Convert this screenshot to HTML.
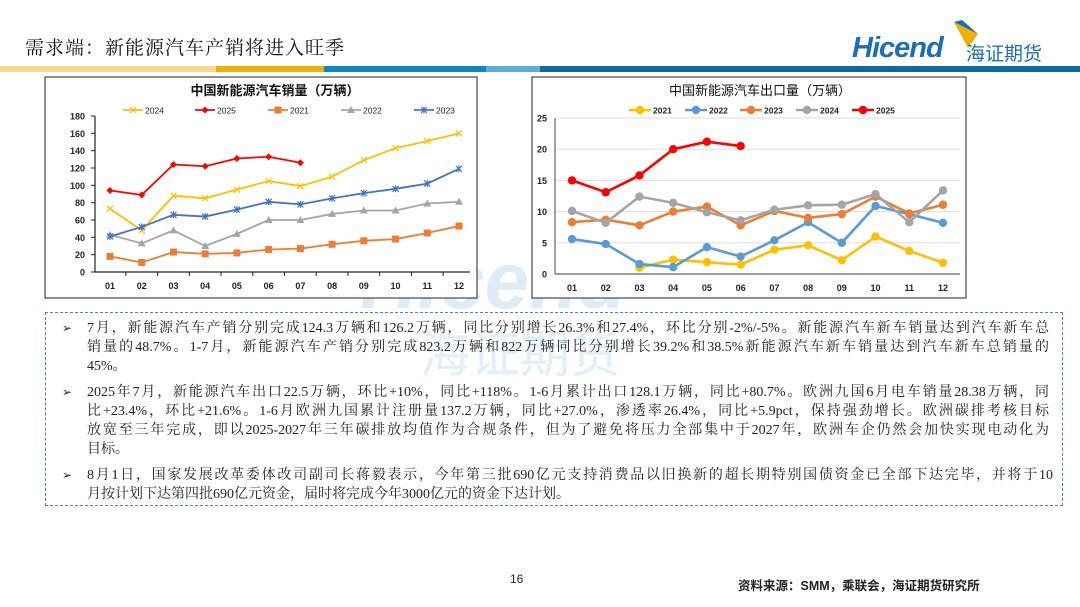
<!DOCTYPE html>
<html><head><meta charset="utf-8">
<style>
body{margin:0;width:1080px;height:607px;background:#fff;position:relative;overflow:hidden;font-family:"Liberation Sans","Noto Sans CJK SC",sans-serif;}
.abs{position:absolute}
.txt{font-family:"Liberation Serif","Noto Serif CJK SC",serif;font-size:14px;line-height:19px;color:#222;}
.item{position:relative;padding-left:35px;margin:0 0 7px 0;width:962px}
.item:before{content:"➢";position:absolute;left:10px;top:0;font-family:"DejaVu Sans",sans-serif;font-size:12px}
.ln{display:block;white-space:nowrap;text-align:justify;text-align-last:justify;text-justify:inter-character}
.ln.last{text-align-last:left}
</style></head><body>
<div class="abs" style="left:25px;top:33px;font-size:19px;letter-spacing:1px;font-family:'Liberation Serif','Noto Serif CJK SC',serif;color:#111">需求端：新能源汽车产销将进入旺季</div>
<div class="abs" style="left:852px;top:28px;width:215px;height:38px">
  <span style="position:absolute;left:0;top:4px;font:italic bold 29px 'Liberation Sans',sans-serif;color:#1a6fb5;letter-spacing:-1px">Hicend</span>
  <svg style="position:absolute;left:100px;top:-8px" width="30" height="30"><polygon points="2,2 26,14 16,28" fill="#f0b000"/><polygon points="2,2 10,0 26,14" fill="#1a6fb5"/></svg>
  <span style="position:absolute;left:114px;top:11px;font-size:19px;color:#1a6fb5">海证期货</span>
</div>
<div class="abs" style="left:0;top:66px;width:1080px;height:6px;display:flex">
  <div style="width:216px;background:#f7d98a"></div><div style="width:108px;background:#f0b000"></div><div style="width:162px;background:#0a8ac4"></div><div style="width:54px;background:#5aaede"></div><div style="flex:1;background:#0a6aa0"></div>
</div>
<div class="abs" style="left:360px;top:235px;font:italic bold 80px 'Liberation Sans',sans-serif;color:rgba(120,180,225,0.25)">Hicend</div>
<div class="abs" style="left:420px;top:315px;font-size:50px;color:rgba(120,180,225,0.22)">海证期货</div>

<svg class="abs" style="left:0;top:0" width="1080" height="310" id="charts"></svg>

<div class="abs txt" style="left:45px;top:312px;width:1004px;height:186px;border:1.5px dashed #4a7fd0;padding:6px 6px 0 6px">
<div class="item"><span class="ln">7月，新能源汽车产销分别完成124.3万辆和126.2万辆，同比分别增长26.3%和27.4%，环比分别-2%/-5%。新能源汽车新车销量达到汽车新车总</span><span class="ln">销量的48.7%。1-7月，新能源汽车产销分别完成823.2万辆和822万辆同比分别增长39.2%和38.5%新能源汽车新车销量达到汽车新车总销量的</span><span class="ln last">45%。</span></div>
<div class="item"><span class="ln">2025年7月，新能源汽车出口22.5万辆，环比+10%，同比+118%。1-6月累计出口128.1万辆，同比+80.7%。欧洲九国6月电车销量28.38万辆，同</span><span class="ln">比+23.4%，环比+21.6%。1-6月欧洲九国累计注册量137.2万辆，同比+27.0%，渗透率26.4%，同比+5.9pct，保持强劲增长。欧洲碳排考核目标</span><span class="ln">放宽至三年完成，即以2025-2027年三年碳排放均值作为合规条件，但为了避免将压力全部集中于2027年，欧洲车企仍然会加快实现电动化为</span><span class="ln last">目标。</span></div>
<div class="item" style="width:966px"><span class="ln">8月1日，国家发展改革委体改司副司长蒋毅表示，今年第三批690亿元支持消费品以旧换新的超长期特别国债资金已全部下达完毕，并将于10</span><span class="ln last">月按计划下达第四批690亿元资金，届时将完成今年3000亿元的资金下达计划。</span></div>
</div>
<div class="abs" style="left:510px;top:572px;font-size:12px;color:#222">16</div>
<div class="abs" style="left:738px;top:575px;font-size:12.5px;font-weight:bold;color:#222">资料来源：SMM，乘联会，海证期货研究所</div>

<script>
const months=["01","02","03","04","05","06","07","08","09","10","11","12"];
const salesYears=["2024","2025","2021","2022","2023"];
const sales2024=[73,48,88,85,95,105,99,110,129,143,151,160];
const sales2025=[94,89,124,122,131,133,126];
const sales2021=[18,11,23,21,22,26,27,32,36,38,45,53];
const sales2022=[43,33,48,30,44,60,60,67,71,71,79,81];
const sales2023=[41,52,66,64,72,81,78,85,91,96,102,119];
const salesTicks=[0,20,40,60,80,100,120,140,160,180];
const expYears=["2021","2022","2023","2024","2025"];
const exp2021=[null,null,1,2.3,1.9,1.5,3.9,4.6,2.2,6,3.7,1.8];
const exp2022=[5.6,4.8,1.6,1.1,4.3,2.8,5.4,8.3,5,10.9,9.6,8.2];
const exp2023=[8.3,8.7,7.8,10,10.8,7.8,10.1,9,9.6,12.4,9.7,11.1];
const exp2024=[10.1,8.2,12.4,11.4,9.9,8.6,10.3,11,11.1,12.8,8.3,13.4];
const exp2025=[15,13.1,15.8,20,21.2,20.5];
const expTicks=[0,5,10,15,20,25];

const NS="http://www.w3.org/2000/svg";
const svg=document.getElementById('charts');
function el(tag,attrs,parent,text){const e=document.createElementNS(NS,tag);for(const k in attrs)e.setAttribute(k,attrs[k]);if(text!==undefined)e.textContent=text;(parent||svg).appendChild(e);return e;}

function marker(g,type,x,y,c){
  let m;
  if(type==='x'){m=el('path',{d:`M${x-3},${y-3}L${x+3},${y+3}M${x-3},${y+3}L${x+3},${y-3}`,stroke:c,'stroke-width':1.2},g);}
  else if(type==='star'){m=el('path',{d:`M${x-3},${y-3}L${x+3},${y+3}M${x-3},${y+3}L${x+3},${y-3}M${x},${y-3.5}L${x},${y+3.5}`,stroke:c,'stroke-width':1.2},g);}
  else if(type==='diamond'){m=el('path',{d:`M${x},${y-3.5}L${x+3.5},${y}L${x},${y+3.5}L${x-3.5},${y}Z`,fill:c},g);}
  else if(type==='square'){m=el('rect',{x:x-3.5,y:y-3.5,width:7,height:7,fill:c},g);}
  else if(type==='tri'){m=el('path',{d:`M${x},${y-4}L${x+4},${y+3}L${x-4},${y+3}Z`,fill:c},g);}
  else {m=el('circle',{cx:x,cy:y,r:type==='dot'?4.2:3.5,fill:c},g);}
  return m;
}

function drawChart(cfg){
  const g=el('g',{});
  
  
  const f=el('rect',{x:cfg.fx,y:cfg.fy,width:cfg.fw,height:cfg.fh,fill:'#fff',stroke:'#222','stroke-width':1},g);
  
  
  const {x0,x1,y0,y1,xFirst,xLast,maxV}=cfg;
  const xs=i=>xFirst+(xLast-xFirst)*i/11;
  const ys=v=>y0-(y0-y1)*v/maxV;
  const t=el('text',{x:cfg.tx,y:cfg.fy+18,'text-anchor':'middle','font-size':13,'font-weight':cfg.titleBold?'bold':'normal',fill:'#111'},g,cfg.title);
  
  
  cfg.ticks.forEach(v=>{
    if(cfg.grid&&v>0){const gl=el('line',{x1:x0,x2:x1,y1:ys(v),y2:ys(v),stroke:'#ddd','stroke-width':1},g);
      }
    if(!cfg.grid){el('line',{x1:x0-4,x2:x0,y1:ys(v),y2:ys(v),stroke:'#222'},g);}
    const tl=el('text',{x:x0-cfg.tickOff,y:ys(v)+3.5,'text-anchor':'end','font-size':9,'font-weight':'bold',fill:'#222'},g,String(v));
    
  });
  const ya=el('line',{x1:x0,x2:x0,y1:y1,y2:y0,stroke:cfg.grid?'#666':'#222','stroke-width':1.2},g);
  
  const xa=el('line',{x1:x0,x2:x1,y1:y0,y2:y0,stroke:cfg.grid?'#666':'#222','stroke-width':1.2},g);
  
  months.forEach((m,i)=>{
    if(!cfg.grid&&i<11){el('line',{x1:(xs(i)+xs(i+1))/2,x2:(xs(i)+xs(i+1))/2,y1:y0,y2:y0+4,stroke:'#222'},g);}
    const xl=el('text',{x:xs(i),y:y0+cfg.xlOff,'text-anchor':'middle','font-size':9,'font-weight':'bold',fill:'#222'},g,m);
    
  });
  cfg.series.forEach((s,k)=>{
    const sg=el('g',{},g);
    
    
    let d='';let pen=false;
    s.data.forEach((v,i)=>{if(v===null||v===undefined){pen=false;return;}d+=(pen?'L':'M')+xs(i)+','+ys(v);pen=true;});
    const p=el('path',{d:d,fill:'none',stroke:s.color,'stroke-width':cfg.lw},sg);
    
    s.data.forEach((v,i)=>{if(v===null||v===undefined)return;
      const mk=marker(sg,s.marker,xs(i),ys(v),s.color);
      
      
    });
    const lx=cfg.legX[k],ly=cfg.fy+33;
    const lg=el('g',{},g);
    
    
    el('line',{x1:lx,x2:lx+cfg.legLen,y1:ly,y2:ly,stroke:s.color,'stroke-width':cfg.lw},lg);
    marker(lg,s.marker,lx+cfg.legLen/2,ly,s.color);
    el('text',{x:lx+cfg.legLen+2,y:ly+3.5,'font-size':cfg.legFont,'font-weight':cfg.legBold?'bold':'normal',fill:'#222'},lg,s.label);
  });
}

drawChart({name:'nev-sales-chart',fx:45,fy:77,fw:432,fh:221,tx:275,title:'中国新能源汽车销量（万辆）',titleBold:true,
  x0:95,x1:470,y0:272,y1:116,xFirst:110,xLast:459,maxV:180,ticks:salesTicks,grid:false,tickOff:10,xlOff:17,lw:1.8,
  legX:[123,195,268,341,414],legLen:20,legFont:8.5,legBold:false,
  series:[
    {label:salesYears[0],data:sales2024,color:'#ffc000',marker:'x'},
    {label:salesYears[1],data:sales2025,color:'#ff0000',marker:'diamond'},
    {label:salesYears[2],data:sales2021,color:'#ed7d31',marker:'square'},
    {label:salesYears[3],data:sales2022,color:'#a5a5a5',marker:'tri'},
    {label:salesYears[4],data:sales2023,color:'#4472c4',marker:'star'}]});

drawChart({name:'nev-export-chart',fx:532,fy:77,fw:434,fh:221,tx:760,title:'中国新能源汽车出口量（万辆）',titleBold:false,
  x0:555,x1:960,y0:274,y1:118,xFirst:572,xLast:943,maxV:25,ticks:expTicks,grid:true,tickOff:8,xlOff:17,lw:2.6,
  legX:[629,685,740,796,852],legLen:22,legFont:8.5,legBold:true,
  series:[
    {label:expYears[0],data:exp2021,color:'#ffc000',marker:'dot'},
    {label:expYears[1],data:exp2022,color:'#5b9bd5',marker:'dot'},
    {label:expYears[2],data:exp2023,color:'#ed7d31',marker:'dot'},
    {label:expYears[3],data:exp2024,color:'#a5a5a5',marker:'dot'},
    {label:expYears[4],data:exp2025,color:'#ff0000',marker:'dot'}]});
</script>
</body></html>
